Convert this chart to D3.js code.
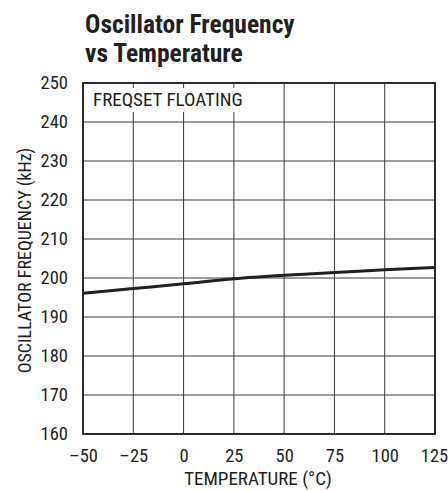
<!DOCTYPE html>
<html>
<head>
<meta charset="utf-8">
<script src="https://cdn.jsdelivr.net/npm/d3@7"></script>
<style>
  body { margin: 0; background: #fff; }
  text { font-family: "Roboto Condensed", "Liberation Sans Narrow", sans-serif; fill: #231f20; }
</style>
</head>
<body>
<svg id="chart" width="448" height="491"></svg>
<script>
// temperature (°C) and oscillator frequency (kHz)
const temps = [-50, -25, 0, 25, 50, 75, 100, 125];
const freqs = [196.1, 197.3, 198.5, 199.8, 200.7, 201.4, 202.1, 202.7];
const xTicks = [-50, -25, 0, 25, 50, 75, 100, 125];
const yTicks = [160, 170, 180, 190, 200, 210, 220, 230, 240, 250];

const margin = { top: 83, right: 13, bottom: 57, left: 83 };
const width = 448, height = 491;
const innerWidth = width - margin.left - margin.right;
const innerHeight = height - margin.top - margin.bottom;

const svg = d3.select("#chart");

// title
const title = svg.append("text").attr("x", 85).attr("y", 33)
  .style("font-size", "25.5px").style("font-weight", "bold");
title.append("tspan").attr("x", 85).text("Oscillator Frequency");
title.append("tspan").attr("x", 85).attr("dy", 29).text("vs Temperature");

const g = svg.append("g").attr("transform", `translate(${margin.left},${margin.top})`);

const x = d3.scaleLinear().domain([-50, 125]).range([0, innerWidth]);
const y = d3.scaleLinear().domain([160, 250]).range([innerHeight, 0]);

// grid
g.selectAll(".vgrid").data(xTicks).join("line").attr("class", "vgrid")
  .attr("x1", d => x(d)).attr("x2", d => x(d))
  .attr("y1", 0).attr("y2", innerHeight)
  .attr("stroke", "#3a3a3a").attr("stroke-width", 1);
g.selectAll(".hgrid").data(yTicks).join("line").attr("class", "hgrid")
  .attr("x1", 0).attr("x2", innerWidth)
  .attr("y1", d => y(d)).attr("y2", d => y(d))
  .attr("stroke", "#3a3a3a").attr("stroke-width", 1);

// label box over grid
g.append("rect").attr("x", 1).attr("y", 5).attr("width", 158).attr("height", 24).attr("fill", "#fff");
g.append("text").attr("x", 10).attr("y", 23).style("font-size", "19px").text("FREQSET FLOATING");

// frame
g.append("rect").attr("width", innerWidth).attr("height", innerHeight)
  .attr("fill", "none").attr("stroke", "#231f20").attr("stroke-width", 1.8);

// axes (labels only)
const xAxis = g.append("g").attr("transform", `translate(0,${innerHeight})`)
  .call(d3.axisBottom(x).tickValues(xTicks).tickSize(0).tickPadding(15)
    .tickFormat(d => d < 0 ? "\u2013" + Math.abs(d) : d));
const yAxis = g.append("g")
  .call(d3.axisLeft(y).tickValues(yTicks).tickSize(0).tickPadding(15));
[xAxis, yAxis].forEach(a => {
  a.select(".domain").remove();
  a.selectAll("text").style("font-size", "18.5px").attr("fill", "#231f20")
    .attr("font-family", null);
});
xAxis.selectAll(".tick:last-of-type text").attr("dx", "-1");

// curve
const line = d3.line().x((d, i) => x(temps[i])).y(d => y(d)).curve(d3.curveMonotoneX);
g.append("path").datum(freqs).attr("d", line)
  .attr("fill", "none").attr("stroke", "#231f20").attr("stroke-width", 3);

// axis titles
svg.append("text").attr("x", 258).attr("y", 485)
  .attr("text-anchor", "middle").style("font-size", "19px").text("TEMPERATURE (°C)");
svg.append("text")
  .attr("transform", `translate(31,${margin.top + innerHeight / 2 + 2}) rotate(-90)`)
  .attr("text-anchor", "middle").style("font-size", "18px").text("OSCILLATOR FREQUENCY (kHz)");
</script>
</body>
</html>
